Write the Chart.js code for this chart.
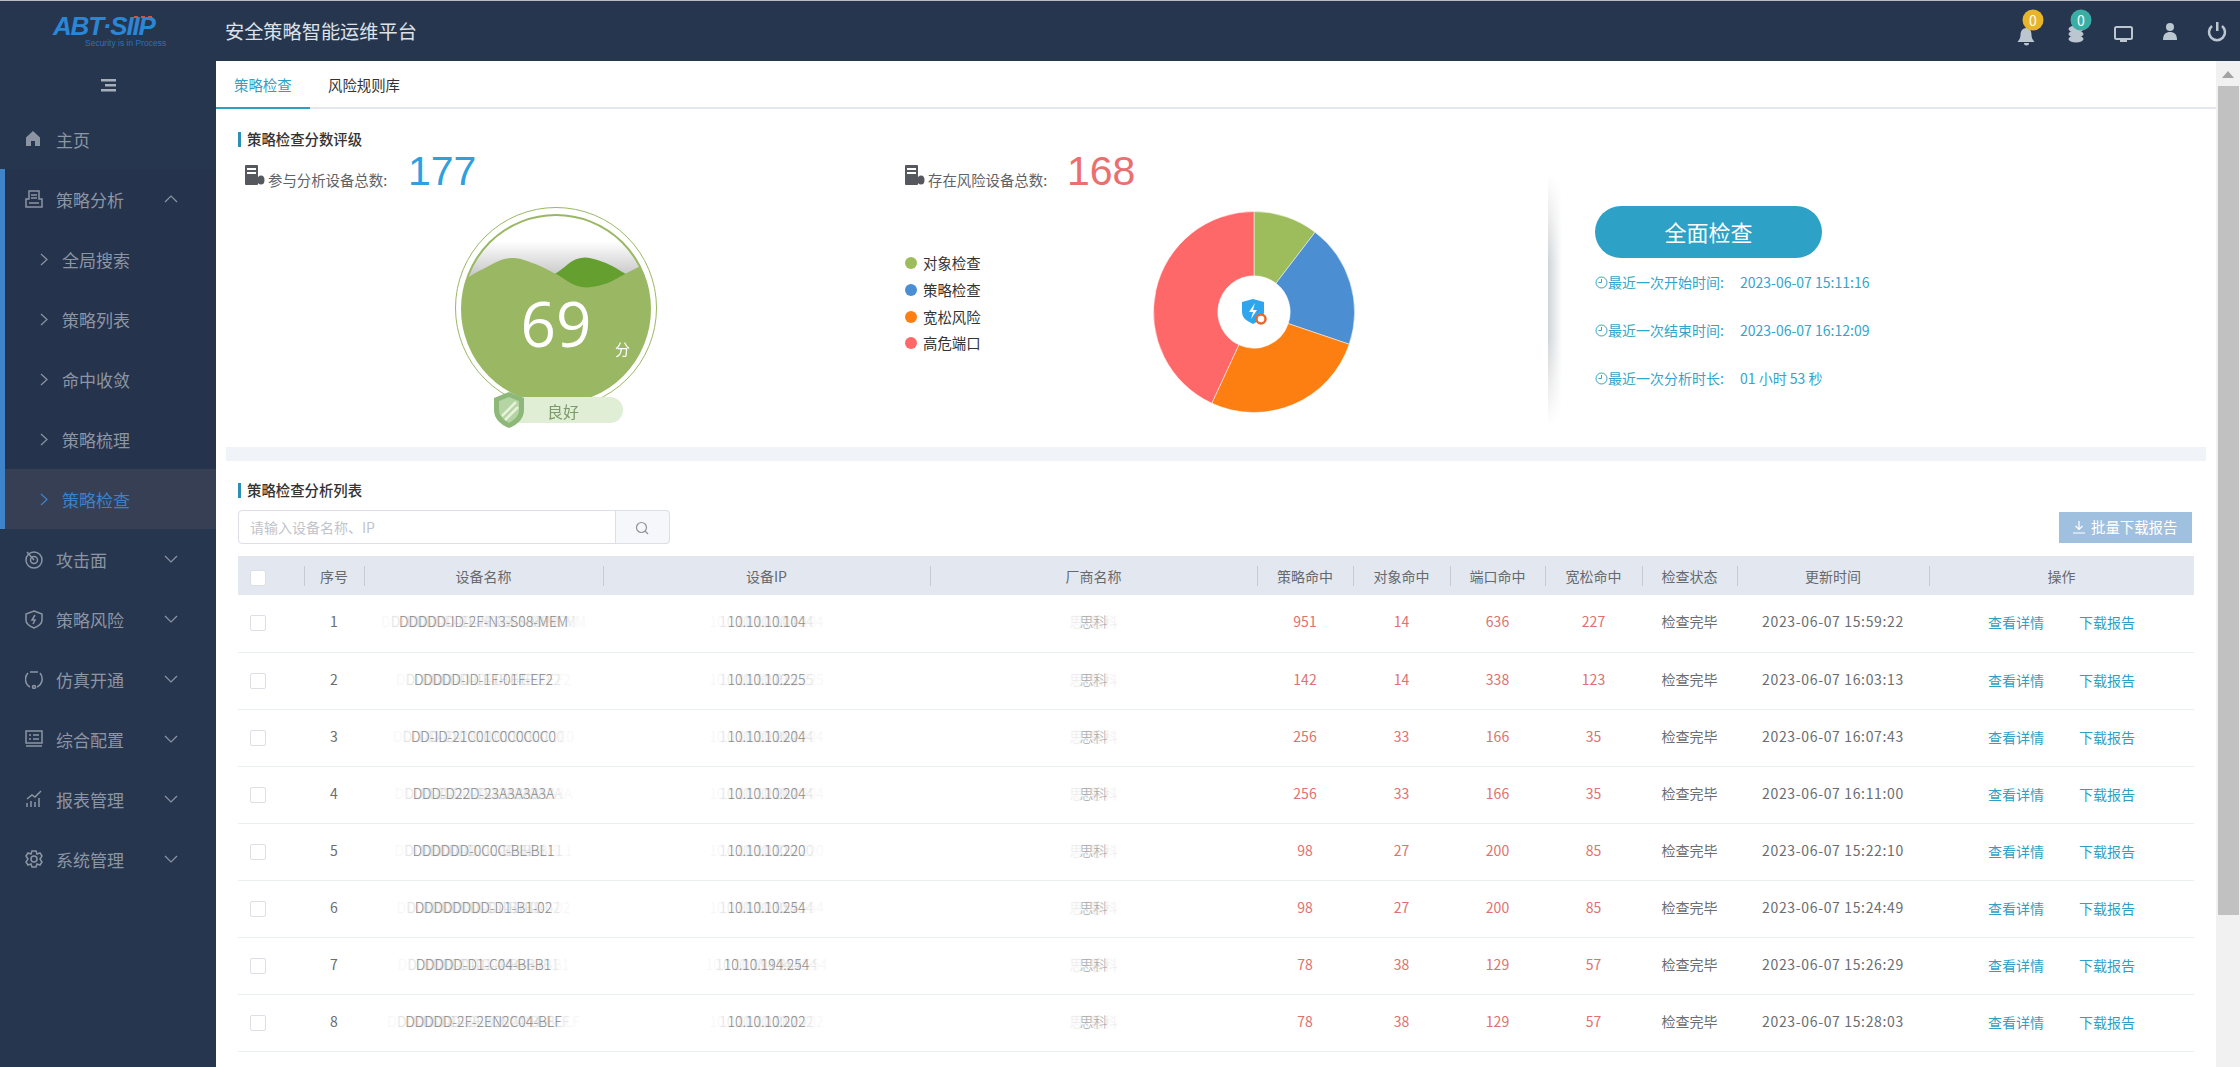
<!DOCTYPE html>
<html lang="zh">
<head>
<meta charset="utf-8">
<title>安全策略智能运维平台</title>
<script src="https://cdn.jsdelivr.net/npm/chart.js@4"></script>
<style>
  * { box-sizing: border-box; }
  html, body { margin: 0; width: 2240px; height: 1067px; overflow: hidden; background: #fff; }
  body { font-family: "Noto Sans CJK SC", "Noto Sans", sans-serif; font-size: 14px; color: #606266; position: relative; }
  .abs { position: absolute; white-space: nowrap; line-height: 1; }

  .top { position: absolute; left: 0; top: 0; width: 2240px; height: 61px; background: #27364f; border-top: 1px solid #b9bdc2; }
  .side { position: absolute; left: 0; top: 61px; width: 216px; height: 1006px; background: #27364f; }
  .sub-bg { position: absolute; left: 0; top: 169px; width: 216px; height: 360px; background: #25334c; }
  .active-bg { position: absolute; left: 0; top: 469px; width: 216px; height: 60px; background: #373f55; }
  .strip { position: absolute; left: 0; top: 169px; width: 5px; height: 360px; background: #3f83c8; }
  .nav { position: absolute; font-size: 17px; line-height: 1; color: #8c95a3; white-space: nowrap; transform: translateY(-50%); }
  .nav.on { color: #3d82c8; }
  .chev { position: absolute; width: 14px; height: 8px; fill: none; stroke: #8c95a3; stroke-width: 1.2; }
  .ico { position: absolute; fill: none; stroke: #8c95a3; stroke-width: 1.5; }

  .sect { position: absolute; left: 238px; width: 3px; height: 15px; background: #2d8fb5; }
  .sect-t { font-size: 14.4px; font-weight: 500; color: #333; }

  #pieBox { position: absolute; left: 1149px; top: 207px; width: 210px; height: 210px; }
  #waveBox { position: absolute; left: 462px; top: 215px; width: 188px; height: 188px; border-radius: 50%; overflow: hidden;
    background: linear-gradient(#fff 0, #fff 14%, #c2c2c4 34%, #c2c2c4 100%); }
  .ring { position: absolute; border-radius: 50%; }

  table { position: absolute; left: 238px; top: 556px; width: 1956px; border-collapse: collapse; table-layout: fixed; }
  th { height: 39px; background: #e3e8f0; font-weight: 400; font-size: 14px; color: #66696e; position: relative; padding: 0; }
  th + th::before { content: ""; position: absolute; left: 0; top: 10px; height: 20px; border-left: 1px solid #c6ccd4; }
  td { height: 57px; border-bottom: 1.5px solid #e9eef1; text-align: center; padding: 0 0 4px 0; font-size: 14px; color: #6a6d72; white-space: nowrap; overflow: hidden; }
  .box { display: inline-block; width: 16px; height: 16px; border: 1px solid #dcdfe6; border-radius: 2px; background: #fff; vertical-align: middle; margin-right: 26px; }
  .hit { color: #e0716f; }
  .when { letter-spacing: .65px; }
  .ghost { color: #8a8a8a; font-weight: 300; text-shadow: -8px 0 1px rgba(120,120,120,.22), 8px 0 1px rgba(120,120,120,.22), 18px 0 1px rgba(170,170,170,.14), -18px 0 1px rgba(170,170,170,.14); }
  .ghost-v { color: #a8a8a8; font-weight: 300; text-shadow: -10px 0 1px rgba(170,170,170,.3), 10px 0 1px rgba(170,170,170,.3); }
  .link { color: #2f9fc4; position: absolute; }
  td.ops { position: relative; }
</style>
</head>
<body>
<div class="top"></div>
<div class="side"></div>
<div class="sub-bg"></div>
<div class="active-bg"></div>
<div class="strip"></div>

<!-- logo -->
<div class="abs" style="left:53px;top:16px;font:italic 700 26px/0.8 'Liberation Sans';letter-spacing:-1.2px;color:#2b86d6">ABT·SIIP</div>
<div class="abs" style="left:134px;top:16px;width:20px;height:2px;background:repeating-linear-gradient(90deg,#d2553a 0 4px,transparent 4px 7px)"></div>
<div class="abs" style="left:85px;top:38px;font:8.5px 'Liberation Sans Narrow','Liberation Sans';color:#2472c0">Security is in Process</div>
<div class="abs" style="left:225px;top:22px;font-size:19.2px;color:#dde2e8">安全策略智能运维平台</div>

<!-- header icons -->
<svg class="abs" style="left:2010px;top:8px" width="220" height="46" fill="#bcc6d0">
  <path d="M16.5 20c3.500 0 5 3 5 7 0 3.500 1.500 5 3 7h-17c1.500-2 3-3.500 3-7 0-4 2-7 6-7zM14 35h5a2.500 2.500 0 0 1-5 0z"/>
  <circle cx="23" cy="12" r="10.500" fill="#e8b52a"/>
  <ellipse cx="66" cy="21" rx="7.500" ry="3.500"/><ellipse cx="66" cy="26" rx="7.500" ry="3.500"/><ellipse cx="66" cy="31" rx="7.500" ry="3.500"/>
  <circle cx="71" cy="12" r="10.500" fill="#3aaea5"/>
  <rect x="105" y="19" width="17" height="12" rx="1.500" fill="none" stroke="#bcc6d0" stroke-width="2"/><rect x="110" y="32" width="7" height="2"/>
  <circle cx="160" cy="19" r="4"/><path d="M153 32c0-6 3-8 7-8s7 2 7 8z"/>
  <path d="M202 18a8 8 0 1 0 10 0" fill="none" stroke="#bcc6d0" stroke-width="2.500"/><rect x="206" y="14" width="2.500" height="9"/>
</svg>
<div class="abs" style="left:2028px;top:13px;width:10px;text-align:center;font-size:14px;color:#fff">0</div>
<div class="abs" style="left:2076px;top:13px;width:10px;text-align:center;font-size:14px;color:#fff">0</div>

<svg class="abs" style="left:101px;top:79px" width="15" height="13" fill="#a6afbb"><rect width="15" height="2.500"/><rect x="4" y="5" width="11" height="2.500"/><rect y="10" width="15" height="2.500"/></svg>
<div id="nav"></div>

<!-- tabs -->
<div class="abs" style="left:216px;top:107px;width:2000px;height:2px;background:#e4e7ed"></div>
<div class="abs" style="left:216px;top:107px;width:94px;height:2px;background:#2d9fc3"></div>
<div class="abs" style="left:234px;top:78px;font-size:14.4px;color:#2f9fc4">策略检查</div>
<div class="abs" style="left:328px;top:78px;font-size:14.4px;color:#333">风险规则库</div>

<!-- score section -->
<div class="sect" style="top:132px"></div>
<div class="abs sect-t" style="left:247px;top:132px">策略检查分数评级</div>

<svg class="abs" style="left:245px;top:165px" width="20" height="21" fill="#55585c"><rect width="13" height="20" rx="1"/><rect x="2" y="3" width="9" height="2" fill="#fff"/><rect x="2" y="7" width="9" height="2" fill="#fff"/><ellipse cx="16" cy="15" rx="3.500" ry="4.500"/></svg>
<div class="abs" style="left:268px;top:173px;font-size:14.4px;color:#606266">参与分析设备总数:</div>
<div class="abs" id="totalNum" style="left:408px;top:148px;font:41px 'Liberation Sans';color:#2f9fe0"></div>

<svg class="abs" style="left:905px;top:165px" width="20" height="21" fill="#55585c"><rect width="13" height="20" rx="1"/><rect x="2" y="3" width="9" height="2" fill="#fff"/><rect x="2" y="7" width="9" height="2" fill="#fff"/><ellipse cx="16" cy="15" rx="3.500" ry="4.500"/></svg>
<div class="abs" style="left:928px;top:173px;font-size:14.4px;color:#606266">存在风险设备总数:</div>
<div class="abs" id="riskNum" style="left:1067px;top:148px;font:41px 'Liberation Sans';color:#ea6f6f"></div>

<!-- gauge -->
<div class="ring" style="left:455px;top:207px;width:202px;height:202px;border:1.5px solid #9ab863"></div>
<div id="waveBox"><canvas id="waveChart" width="188" height="188"></canvas></div>
<div class="ring" style="left:461px;top:214px;width:190px;height:190px;border:2.5px solid #9ab863"></div>
<div class="abs" id="scoreNum" style="left:520px;top:281px;width:72px;text-align:center;font:62px 'Open Sans','Liberation Sans';color:#fff"></div>
<div class="abs" style="left:615px;top:341px;font-size:15px;color:#fff">分</div>
<div class="abs" style="left:507px;top:397px;width:116px;height:26px;border-radius:13px;background:#dfeed5"></div>
<svg class="abs" style="left:492px;top:391px" width="34" height="38"><path d="M17 1l15 6v12c0 9-7 15-15 18C9 34 2 28 2 19V7z" fill="#8db87a"/><path d="M17 6l10 4v9c0 6-5 10-10 13-5-3-10-7-10-13v-9z" fill="#b4d4a4"/><path d="M10 25L24 11M13 29L26 16" stroke="#e6f2dc" stroke-width="2.500"/></svg>
<div class="abs" id="gradeTxt" style="left:547px;top:403px;font-size:16px;color:#7c9a6c"></div>

<!-- pie -->
<div id="legend"></div>
<div id="pieBox"><canvas id="pieChart" width="210" height="210"></canvas></div>
<svg class="abs" style="left:1240px;top:299px" width="30" height="28">
  <path d="M2 3l11-3 11 3v10c0 6-5 9-11 12C7 22 2 19 2 13z" fill="#2fa5ee"/>
  <path d="M15 4l-6 9h4l-2 7 6-9h-4z" fill="#fff"/>
  <circle cx="21" cy="20" r="4.500" fill="#fff" stroke="#e9672c" stroke-width="2.500"/>
</svg>

<!-- right panel -->
<div class="abs" style="left:1548px;top:175px;width:14px;height:250px;background:linear-gradient(90deg,rgba(170,175,180,.55),rgba(255,255,255,0));-webkit-mask-image:linear-gradient(transparent,#000 35%,#000 65%,transparent)"></div>
<div class="abs" style="left:1595px;top:206px;width:227px;height:52px;border-radius:26px;background:#2ea2c6;color:#fff;font-size:22px;line-height:50px;text-align:center">全面检查</div>
<div id="info"></div>

<div class="abs" style="left:226px;top:447px;width:1980px;height:14px;background:#f0f4f8"></div>

<!-- list section -->
<div class="sect" style="top:483px"></div>
<div class="abs sect-t" style="left:247px;top:483px">策略检查分析列表</div>
<div class="abs" style="left:238px;top:510px;width:432px;height:34px;border:1px solid #dcdfe6;border-radius:4px;background:#fff"></div>
<div class="abs" style="left:615px;top:510px;width:55px;height:34px;border:1px solid #dcdfe6;border-radius:0 4px 4px 0;background:#f5f7fa"></div>
<svg class="abs" style="left:635px;top:521px" width="14" height="14" fill="none" stroke="#909399" stroke-width="1.200"><circle cx="6.500" cy="6.500" r="5"/><path d="M10 10l3 3"/></svg>
<div class="abs" style="left:250px;top:520px;font-size:14px;color:#c0c4cc">请输入设备名称、IP</div>
<div class="abs" style="left:2059px;top:512px;width:133px;height:31px;background:#a0c0e0;color:#fff;font-size:14.4px;line-height:29px;padding-left:32px">批量下载报告</div>
<svg class="abs" style="left:2073px;top:521px" width="12" height="13" fill="none" stroke="#fff" stroke-width="1.200"><path d="M6 0v8M2.500 5L6 8.500 9.500 5M0 12h12"/></svg>

<table id="tbl">
  <colgroup>
    <col style="width:66px"><col style="width:60px"><col style="width:239px"><col style="width:327px"><col style="width:327px">
    <col style="width:96px"><col style="width:97px"><col style="width:95px"><col style="width:97px"><col style="width:95px"><col style="width:192px"><col style="width:265px">
  </colgroup>
  <thead id="thead"></thead>
  <tbody id="tbody"></tbody>
</table>

<!-- scrollbar -->
<div class="abs" style="left:2216px;top:61px;width:24px;height:1006px;background:#f1f1f1"></div>
<div class="abs" style="left:2218px;top:86px;width:21px;height:829px;background:#c1c1c1"></div>
<svg class="abs" style="left:2222px;top:71px" width="12" height="7"><path d="M0 7L6 0l6 7z" fill="#a3a3a3"/></svg>

<script>
// numbers at the top of the panel
const totalDevices = 177;
const riskDevices = 168;
const score = 69;
const grade = '良好';

// pie
const riskLabels = ['对象检查', '策略检查', '宽松风险', '高危端口'];
const riskValues = [10.4, 19.8, 26.7, 43.1];
const riskColors = ['#9dbd5c', '#4b8ed1', '#fd7f11', '#ff6868'];

// gauge waves, level in percent of the circle height
const waveSteps = ['a', 'b', 'c', 'd', 'e', 'f', 'g', 'h', 'i'];
const waveBack = [69, 62, 60, 62, 69, 77, 75, 68.5, 62];
const waveFront = [65, 72, 77, 74.5, 68.6, 62, 63, 69, 75.5];

// last run
const infoLabels = ['最近一次开始时间:', '最近一次结束时间:', '最近一次分析时长:'];
const infoValues = ['2023-06-07 15:11:16', '2023-06-07 16:12:09', '01 小时 53 秒'];

// table
const tableHead = ['', '序号', '设备名称', '设备IP', '厂商名称', '策略命中', '对象命中', '端口命中', '宽松命中', '检查状态', '更新时间', '操作'];
const deviceNames = ['DDDDD-ID-2F-N3-S08-MEM', 'DDDDD-ID-1F-01F-EF2', 'DD-ID-21C01C0C0C0C0', 'DDD-D22D-23A3A3A3A', 'DDDDDD-0C0C-BL-BL1', 'DDDDDDDD-D1-B1-02', 'DDDDD-D1-C04-BI-B1', 'DDDDD-2F-2EN2C04-BLF'];
const deviceIps = ['10.10.10.104', '10.10.10.225', '10.10.10.204', '10.10.10.204', '10.10.10.220', '10.10.10.254', '10.10.194.254', '10.10.10.202'];
const vendors = ['思科', '思科', '思科', '思科', '思科', '思科', '思科', '思科'];
const policyHits = [951, 142, 256, 256, 98, 98, 78, 78];
const objectHits = [14, 14, 33, 33, 27, 27, 38, 38];
const portHits = [636, 338, 166, 166, 200, 200, 129, 129];
const looseHits = [227, 123, 35, 35, 85, 85, 57, 57];
const updateTimes = ['2023-06-07 15:59:22', '2023-06-07 16:03:13', '2023-06-07 16:07:43', '2023-06-07 16:11:00', '2023-06-07 15:22:10', '2023-06-07 15:24:49', '2023-06-07 15:26:29', '2023-06-07 15:28:03'];

// sidebar: [text, icon or '', chevron]
const navItems = [
  ['主页', 'home', ''], ['策略分析', 'doc', 'up'], ['全局搜索', '', ''], ['策略列表', '', ''], ['命中收敛', '', ''], ['策略梳理', '', ''], ['策略检查', '', ''],
  ['攻击面', 'target', 'down'], ['策略风险', 'shield', 'down'], ['仿真开通', 'loop', 'down'], ['综合配置', 'panel', 'down'], ['报表管理', 'bars', 'down'], ['系统管理', 'gear', 'down']
];
const navIcons = {
  home: '<path d="M8 1L1 7.500V16h5v-5h4v5h5V7.500z" fill="#8c95a3" stroke="none"/>',
  doc: '<path d="M4 1h10v8h3v8H1V9h3zM4 9H1M6 5h6M6 8h6M4 13h10"/>',
  target: '<circle cx="9" cy="10" r="8"/><circle cx="9" cy="10" r="3.500"/><path d="M9 10L2 2"/>',
  shield: '<path d="M9 1l8 3v6c0 4-3 6-8 8-5-2-8-4-8-8V4zM10 5l-3 5h3l-2 4"/>',
  loop: '<path d="M3 3a9 9 0 0 0 2 14M15 3a9 9 0 0 1-3 14M5 2h8"/><circle cx="9" cy="17" r="1.500"/>',
  panel: '<rect x="1" y="1" width="16" height="12"/><path d="M1 16h16M4 5h2M8 5h6M4 9h2M8 9h6"/>',
  bars: '<path d="M2 17v-4M6 17v-6M10 17v-5M14 17V8M2 9l5-4 3 2 6-6"/>',
  gear: '<circle cx="9" cy="9" r="3"/><path d="M7 1h4l1 3 3-1 2 3-2 3 2 3-2 3-3-1-1 3H7l-1-3-3 1-2-3 2-3-2-3 2-3 3 1z"/>'
};

document.getElementById('totalNum').textContent = totalDevices;
document.getElementById('riskNum').textContent = riskDevices;
document.getElementById('scoreNum').textContent = score;
document.getElementById('gradeTxt').textContent = grade;

// sidebar
let navHtml = '';
navItems.forEach(function(item, i) {
  let y = 139 + i * 60;
  let isSub = i >= 2 && i <= 6;
  let isOn = i === 6;
  let left = isSub ? 62 : 56;
  navHtml += '<div class="nav' + (isOn ? ' on' : '') + '" style="left:' + left + 'px;top:' + y + 'px">' + item[0] + '</div>';
  if (isSub) {
    let col = isOn ? '#3d82c8' : '#8c95a3';
    navHtml += '<svg class="chev" style="left:40px;top:' + (y - 6) + 'px;width:8px;height:13px;stroke:' + col + '"><path d="M1 1l6 5.500-6 5.500"/></svg>';
  }
  if (item[1]) {
    navHtml += '<svg class="ico" style="left:25px;top:' + (y - 9) + 'px" width="18" height="19">' + navIcons[item[1]] + '</svg>';
  }
  if (item[2]) {
    let d = item[2] === 'up' ? 'M1 7l6-6 6 6' : 'M1 1l6 6 6-6';
    navHtml += '<svg class="chev" style="left:164px;top:' + (y - 4) + 'px"><path d="' + d + '"/></svg>';
  }
});
document.getElementById('nav').innerHTML = navHtml;

// legend of the pie
let legendHtml = '';
let legendY = [263, 290, 317, 343];
riskLabels.forEach(function(label, i) {
  legendHtml += '<div class="abs" style="left:905px;top:' + (legendY[i] - 6) + 'px;width:12px;height:12px;border-radius:50%;background:' + riskColors[i] + '"></div>';
  legendHtml += '<div class="abs" style="left:923px;top:' + (legendY[i] - 7) + 'px;font-size:14.4px;color:#333">' + label + '</div>';
});
document.getElementById('legend').innerHTML = legendHtml;

// last run info
let infoHtml = '';
infoLabels.forEach(function(label, i) {
  let y = 282 + i * 48;
  infoHtml += '<svg class="abs" style="left:1595px;top:' + (y - 6) + 'px" width="13" height="13" fill="none" stroke="#33a5c9"><circle cx="6.500" cy="6.500" r="5.500"/><path d="M6.500 3v3.500H3.500"/></svg>';
  infoHtml += '<div class="abs" style="left:1608px;top:' + (y - 7) + 'px;font-size:14px;color:#33a5c9">' + label + '</div>';
  infoHtml += '<div class="abs" style="left:1740px;top:' + (y - 7) + 'px;font-size:14px;color:#33a5c9">' + infoValues[i] + '</div>';
});
document.getElementById('info').innerHTML = infoHtml;

// table
document.getElementById('thead').innerHTML = '<tr>' + tableHead.map(function(h, i) {
  return '<th>' + (i === 0 ? '<span class="box"></span>' : h) + '</th>';
}).join('') + '</tr>';

document.getElementById('tbody').innerHTML = deviceNames.map(function(name, i) {
  return '<tr>' +
    '<td><span class="box"></span></td>' +
    '<td>' + (i + 1) + '</td>' +
    '<td><span class="ghost">' + name + '</span></td>' +
    '<td><span class="ghost">' + deviceIps[i] + '</span></td>' +
    '<td><span class="ghost-v">' + vendors[i] + '</span></td>' +
    '<td class="hit">' + policyHits[i] + '</td>' +
    '<td class="hit">' + objectHits[i] + '</td>' +
    '<td class="hit">' + portHits[i] + '</td>' +
    '<td class="hit">' + looseHits[i] + '</td>' +
    '<td>检查完毕</td>' +
    '<td class="when">' + updateTimes[i] + '</td>' +
    '<td class="ops"><span class="link" style="left:59px;top:17px">查看详情</span><span class="link" style="left:150px;top:17px">下载报告</span></td>' +
    '</tr>';
}).join('');

// pie
let pieCtx = document.getElementById('pieChart').getContext('2d');
new Chart(pieCtx, {
  type: 'doughnut',
  data: {
    labels: riskLabels,
    datasets: [{
      data: riskValues,
      backgroundColor: riskColors,
      borderColor: 'rgba(255,255,255,.5)',
      borderWidth: 1,
      hoverOffset: 0
    }]
  },
  options: {
    responsive: false,
    animation: false,
    cutout: '36%',
    layout: { padding: 4 },
    plugins: { legend: { display: false }, tooltip: { enabled: false } }
  }
});

// gauge waves
let waveCtx = document.getElementById('waveChart').getContext('2d');
new Chart(waveCtx, {
  type: 'line',
  data: {
    labels: waveSteps,
    datasets: [
      { data: waveFront, borderWidth: 0, pointRadius: 0, tension: 0.4, fill: 'start', backgroundColor: '#9ab863' },
      { data: waveBack, borderWidth: 0, pointRadius: 0, tension: 0.4, fill: 'start', backgroundColor: '#659f30' }
    ]
  },
  options: {
    responsive: false,
    animation: false,
    layout: { padding: 0 },
    scales: {
      x: { display: false, offset: false },
      y: { display: false, min: 0, max: 100 }
    },
    plugins: { legend: { display: false }, tooltip: { enabled: false } }
  }
});
</script>
</body>
</html>
